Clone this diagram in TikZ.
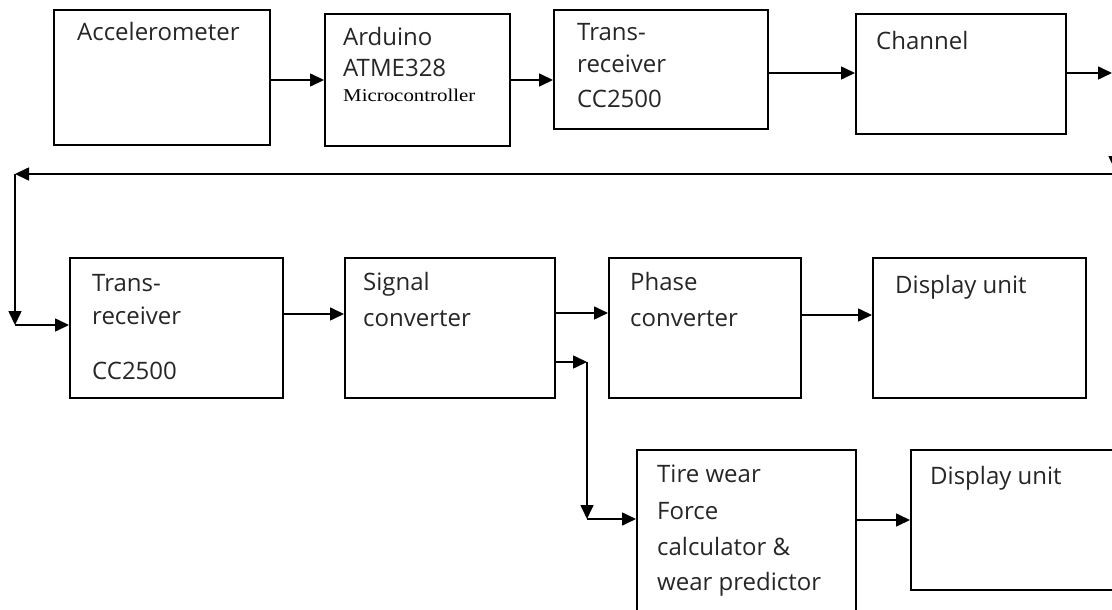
\documentclass[tikz,border=0pt]{standalone}
\usepackage{fontspec}
\setmainfont{Open Sans}
\newfontfamily\mcfont{Liberation Serif}
\usetikzlibrary{arrows.meta}

\begin{document}
\begin{tikzpicture}[
  x=1pt, y=-1pt,
  blk/.style={draw, line width=1.6pt, rectangle, inner sep=0pt, anchor=north west},
  lbl/.style={anchor=base west, inner sep=0pt, text=black!85,
              font=\fontsize{24}{28}\selectfont},
  arr/.style={line width=1.6pt, -{Triangle[length=14pt,width=13pt]}},
  wire/.style={line width=1.6pt}
]
\useasboundingbox (0,0) rectangle (1112,610);
\clip (0,0) rectangle (1112,610);

% ---- transmitter chain ----
\node[blk, minimum width=216pt, minimum height=135pt] (acc) at (53,9) {};
\node[blk, minimum width=185pt, minimum height=132pt] (ard) at (324,13) {};
\node[blk, minimum width=214pt, minimum height=119pt] (tx) at (553,9) {};
\node[blk, minimum width=210pt, minimum height=120pt] (ch) at (855,13) {};

\node[lbl] (acc-t) at (77,41) {Accelerometer};
\node[lbl] (ard-t1) at (343,46) {Arduino};
\node[lbl] (ard-t2) at (343,77) {ATME328};
\node[anchor=base west, inner sep=0pt] (ard-t3) at (343,102)
  {\scalebox{1.16}[1]{\mcfont\fontsize{18}{20}\selectfont Microcontroller}};
\node[lbl] (tx-t1) at (577,41) {Trans-};
\node[lbl] (tx-t2) at (577,73) {receiver};
\node[lbl] (tx-t3) at (577,107) {CC2500};
\node[lbl] (ch-t) at (876,50) {Channel};

% ---- receiver chain ----
\node[blk, minimum width=213pt, minimum height=140pt] (rx) at (69,257) {};
\node[blk, minimum width=210pt, minimum height=140pt] (sig) at (344,257) {};
\node[blk, minimum width=192pt, minimum height=140pt] (ph) at (608,257) {};
\node[blk, minimum width=213pt, minimum height=140pt] (du1) at (872,257) {};
\node[blk, minimum width=219pt, minimum height=176pt] (tw) at (636,449) {};
\node[blk, minimum width=215pt, minimum height=140pt] (du2) at (910,449) {};

\node[lbl] (rx-t1) at (92,291) {Trans-};
\node[lbl] (rx-t2) at (92,324) {receiver};
\node[lbl] (rx-t3) at (92,379) {CC2500};
\node[lbl] (sig-t1) at (363,290) {Signal};
\node[lbl] (sig-t2) at (363,326) {converter};
\node[lbl] (ph-t1) at (630,290) {Phase};
\node[lbl] (ph-t2) at (630,326) {converter};
\node[lbl] (du1-t) at (895,293) {Display unit};
\node[lbl] (tw-t1) at (657,482) {Tire wear};
\node[lbl] (tw-t2) at (657,519) {Force};
\node[lbl] (tw-t3) at (657,555) {calculator \&};
\node[lbl] (tw-t4) at (657,590) {wear predictor};
\node[lbl] (du2-t) at (930,484) {Display unit};

% ---- link points ----
\coordinate (out) at (1112,73);
\coordinate (down) at (1115,73);
\coordinate (downend) at (1115,170);
\coordinate (ret) at (1112,174);
\coordinate (c1) at (15,174);
\coordinate (c2) at (15,325);
\coordinate (b1) at (587,362);
\coordinate (b2) at (587,519);

% ---- connectors ----
\draw[arr] (acc.east |- 0,80) -- (ard.west |- 0,80);
\draw[arr] (ard.east |- 0,80) -- (tx.west |- 0,80);
\draw[arr] (tx.east |- 0,73) -- (ch.west |- 0,73);
\draw[arr] (ch.east |- 0,73) -- (out);
\draw[arr] (down) -- (downend);
\draw[arr] (ret) -- (c1);
\draw[arr] (c1) -- (c2);
\draw[arr] (c2) -- (rx.west |- c2);
\draw[arr] (rx.east |- 0,314) -- (sig.west |- 0,314);
\draw[arr] (sig.east |- 0,313) -- (ph.west |- 0,313);
\draw[arr] (sig.east |- b1) -- (b1);
\draw[arr] (b1) -- (b2);
\draw[arr] (b2) -- (tw.west |- b2);
\draw[arr] (ph.east |- 0,315) -- (du1.west |- 0,315);
\draw[arr] (tw.east |- 0,520) -- (du2.west |- 0,520);
\end{tikzpicture}
\end{document}
